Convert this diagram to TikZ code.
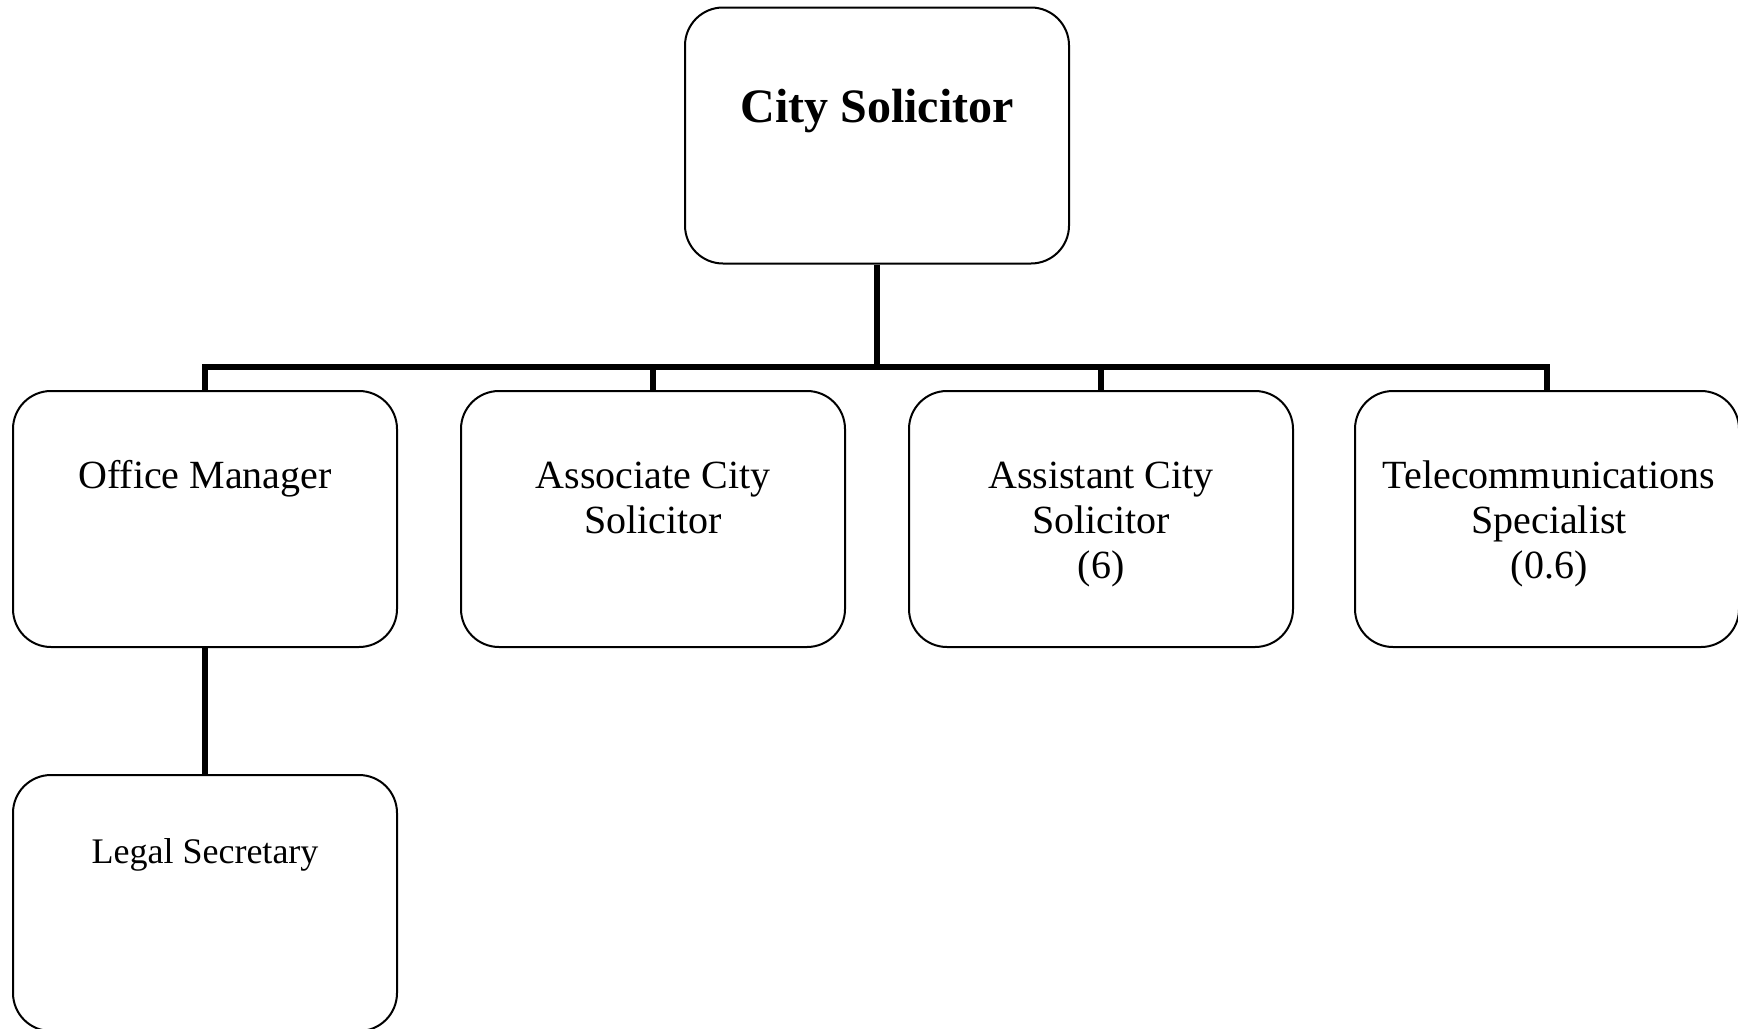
\documentclass[tikz,border=0pt]{standalone}
\usepackage{fontspec}
\setmainfont{Liberation Serif}

\begin{document}
\begin{tikzpicture}[x=0.5pt,y=0.5pt,
  post/.style={draw,line width=1pt,rounded corners=19pt,minimum width=192pt,minimum height=128pt,inner sep=0pt},
  postname/.style={anchor=base,align=center,inner sep=0pt,font=\fontsize{20pt}{22.5pt}\selectfont},
  conn/.style={line width=2.7pt}]
\useasboundingbox (0,0) rectangle (1738,-1028);
\node[post] (cs) at (877,-135.5) {};
\node[post] (om) at (205,-519) {};
\node[post] (acs) at (653,-519) {};
\node[post] (asst) at (1101,-519) {};
\node[post] (tel) at (1547,-519) {};
\node[post] (ls) at (205,-903) {};
% base = last line
\node[postname,font=\fontsize{24pt}{28pt}\selectfont\bfseries] (cstext) at (877,-122) {City Solicitor};
\node[postname] (omtext) at (205,-488) {Office Manager};
\node[postname] (acstext) at (653,-533) {Associate City\\Solicitor};
\node[postname] (assttext) at (1101,-578) {Assistant City\\Solicitor\\(6)};
\node[postname] (teltext) at (1549,-578) {Telecommunications\\Specialist\\(0.6)};
\node[postname,font=\fontsize{18pt}{21pt}\selectfont] (lstext) at (205,-863) {Legal Secretary};
\coordinate (bus) at (877,-367);
\draw[conn] (cs.south) -- (bus);
\foreach \n in {om,acs,asst,tel}
  \draw[conn] (bus) -| (\n.north);
\draw[conn] (om.south) -- (ls.north);
\end{tikzpicture}
\end{document}
